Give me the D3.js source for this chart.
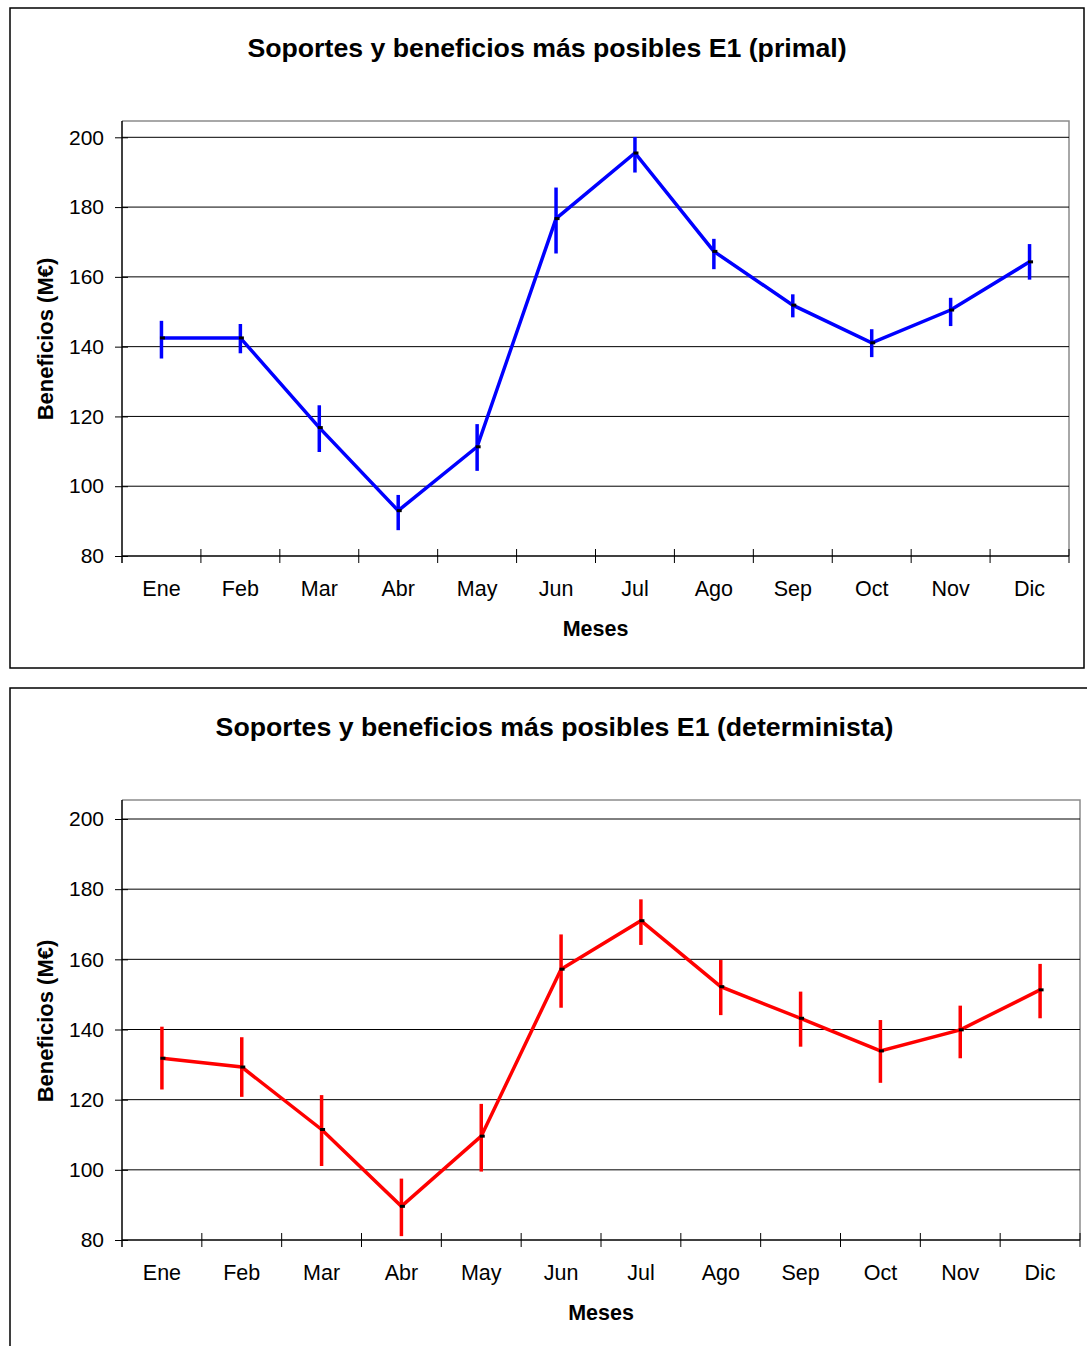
<!DOCTYPE html>
<html>
<head>
<meta charset="utf-8">
<script src="https://cdnjs.cloudflare.com/ajax/libs/d3/7.8.5/d3.min.js"></script>
<style>
  html, body { margin: 0; padding: 0; background: #fff; }
  svg { display: block; font-family: "Liberation Sans", Arial, sans-serif; }
</style>
</head>
<body>
<script>
// Months on the category axis
const months = ["Ene", "Feb", "Mar", "Abr", "May", "Jun", "Jul", "Ago", "Sep", "Oct", "Nov", "Dic"];
// Value axis ticks (M€)
const yTicks = [80, 100, 120, 140, 160, 180, 200];

// E1 primal: most possible profit and its support (low / high)
const primalValues = [142.5, 142.5, 116.8, 93.0, 111.3, 176.7, 195.5, 167.3, 151.9, 141.1, 150.5, 164.3];
const primalLow    = [136.6, 138.1, 109.8, 87.4, 104.4, 166.7, 189.9, 162.2, 148.4, 137.0, 145.9, 159.2];
const primalHigh   = [147.4, 146.5, 123.2, 97.5, 117.8, 185.6, 200.1, 170.9, 155.0, 145.0, 154.0, 169.4];

// E1 deterministic: most possible profit and its support (low / high)
const determValues = [131.8, 129.3, 111.5, 89.6, 109.6, 157.2, 171.0, 152.2, 143.2, 133.9, 139.9, 151.3];
const determLow    = [122.9, 120.8, 101.1, 81.1, 99.5, 146.2, 164.1, 144.1, 135.1, 124.8, 131.8, 143.2];
const determHigh   = [140.8, 137.8, 121.3, 97.5, 118.8, 167.1, 177.1, 159.8, 150.8, 142.7, 146.8, 158.7];

const svg = d3.select("body").append("svg")
  .attr("width", 1087).attr("height", 1346);

svg.append("rect").attr("width", 1087).attr("height", 1346).attr("fill", "#fff");

function drawChart(cfg) {
  const g = svg.append("g");
  const p = cfg.plot;

  // outer frame
  g.append("rect")
    .attr("x", cfg.frame.x).attr("y", cfg.frame.y)
    .attr("width", cfg.frame.w).attr("height", cfg.frame.h)
    .attr("fill", "#fff").attr("stroke", "#000").attr("stroke-width", 1.5);

  // title
  g.append("text")
    .attr("x", cfg.frame.x + cfg.frame.w / 2).attr("y", cfg.titleY)
    .attr("text-anchor", "middle")
    .attr("font-size", 26.7).attr("font-weight", "bold")
    .text(cfg.title);

  const x = d3.scaleBand().domain(months).range([p.left, p.right]).padding(0);
  const y = d3.scaleLinear().domain([80, 200]).range([p.bottom, p.y200]);

  // plot area border (top / right)
  g.append("path")
    .attr("d", `M${p.left},${p.top}H${p.right}V${p.bottom}`)
    .attr("fill", "none").attr("stroke", "#8c8c8c").attr("stroke-width", 1.5);

  // horizontal gridlines
  g.append("g").selectAll("line").data(yTicks.slice(1)).join("line")
    .attr("x1", p.left).attr("x2", p.right)
    .attr("y1", d => y(d)).attr("y2", d => y(d))
    .attr("stroke", "#000").attr("stroke-width", 1);

  // y axis
  const yAxis = g.append("g")
    .attr("transform", `translate(${p.left},0)`)
    .call(d3.axisLeft(y).tickValues(yTicks).tickSize(7).tickPadding(11).tickSizeOuter(0));
  yAxis.select(".domain").remove();
  yAxis.selectAll(".tick line").attr("x2", -7).attr("x1", 6).attr("stroke", "#000");
  yAxis.selectAll(".tick text")
    .attr("font-size", 21).attr("font-family", "Liberation Sans, Arial, sans-serif").attr("fill", "#000");
  g.append("line")
    .attr("x1", p.left).attr("x2", p.left).attr("y1", p.top).attr("y2", p.bottom + 7)
    .attr("stroke", "#000").attr("stroke-width", 1.5);

  // x axis: labels centred in each band, ticks on the band boundaries
  const xAxis = g.append("g")
    .attr("transform", `translate(0,${p.bottom})`)
    .call(d3.axisBottom(x).tickSize(0).tickPadding(25));
  xAxis.select(".domain").remove();
  xAxis.selectAll(".tick text")
    .attr("font-size", 21.5).attr("font-family", "Liberation Sans, Arial, sans-serif").attr("fill", "#000");
  g.append("line")
    .attr("x1", p.left).attr("x2", p.right).attr("y1", p.bottom).attr("y2", p.bottom)
    .attr("stroke", "#000").attr("stroke-width", 1.5);
  const bounds = months.map(m => x(m)).concat([x.range()[1]]);
  g.append("g").selectAll("line").data(bounds.slice(1)).join("line")
    .attr("x1", d => d).attr("x2", d => d)
    .attr("y1", p.bottom - 7).attr("y2", p.bottom + 7)
    .attr("stroke", "#000").attr("stroke-width", 1);

  // axis titles
  g.append("text")
    .attr("x", (p.left + p.right) / 2).attr("y", p.bottom + 80)
    .attr("text-anchor", "middle").attr("font-size", 21.5).attr("font-weight", "bold")
    .text("Meses");
  g.append("text")
    .attr("transform", `translate(${cfg.yLabelX},${cfg.yLabelY}) rotate(-90)`)
    .attr("text-anchor", "middle").attr("font-size", 22).attr("font-weight", "bold")
    .text("Beneficios (M€)");

  const cx = m => x(m) + x.bandwidth() / 2;

  // support bars
  g.append("g").selectAll("line").data(months).join("line")
    .attr("x1", cx).attr("x2", cx)
    .attr("y1", (m, i) => y(cfg.low[i])).attr("y2", (m, i) => y(cfg.high[i]))
    .attr("stroke", cfg.color).attr("stroke-width", 3.5);

  // most possible profit line
  const line = d3.line().x((d, i) => cx(months[i])).y(d => y(d));
  g.append("path").datum(cfg.values)
    .attr("d", line)
    .attr("fill", "none").attr("stroke", cfg.color).attr("stroke-width", 3.5)
    .attr("stroke-linejoin", "miter");

  // point markers
  g.append("g").selectAll("rect").data(cfg.values).join("rect")
    .attr("x", (d, i) => cx(months[i]) - 1.5).attr("y", d => y(d) - 1.5)
    .attr("width", 5).attr("height", 3).attr("fill", "#000");
}

drawChart({
  title: "Soportes y beneficios más posibles E1 (primal)",
  frame: { x: 10, y: 8, w: 1074, h: 660 },
  titleY: 57,
  plot: { left: 122, right: 1069, top: 121, bottom: 556, y200: 137.3 },
  yLabelX: 53, yLabelY: 339,
  values: primalValues, low: primalLow, high: primalHigh,
  color: "#0000ff"
});

drawChart({
  title: "Soportes y beneficios más posibles E1 (determinista)",
  frame: { x: 10, y: 688, w: 1089, h: 700 },
  titleY: 736,
  plot: { left: 122, right: 1080, top: 800, bottom: 1240, y200: 819 },
  yLabelX: 53, yLabelY: 1021,
  values: determValues, low: determLow, high: determHigh,
  color: "#ff0000"
});
</script>
</body>
</html>
